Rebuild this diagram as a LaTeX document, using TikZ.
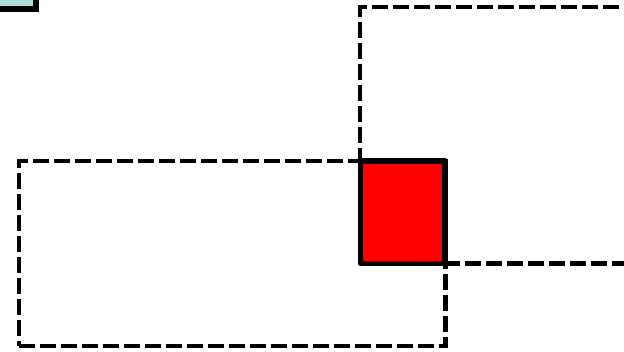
\documentclass[tikz,border=0pt]{standalone}
\begin{document}
\begin{tikzpicture}[x=1pt,y=-1pt,
  dashbox/.style={draw=black,line width=4.5pt,dash pattern=on 16pt off 5pt,rectangle,inner sep=0pt,outer sep=0pt,anchor=north west},
  redbox/.style={draw=black,fill=red,line width=5.5pt,line join=round,rectangle,inner sep=0pt,outer sep=0pt,anchor=north west},
  tealbox/.style={draw=black,line width=5.5pt,rectangle,inner sep=0pt,outer sep=0pt,anchor=south east}]
\useasboundingbox (0,0) rectangle (624,351);
\definecolor{tealfill}{RGB}{175,219,219}
\node[tealbox,fill=tealfill,minimum width=100pt,minimum height=60pt] (corner) at (36,9) {};
\node[dashbox,minimum width=400pt,minimum height=256.5pt] (upper) at (360,7) {};
\node[dashbox,minimum width=426.5pt,minimum height=185pt] (lower) at (19,161) {};
\node[redbox,minimum width=84.5pt,minimum height=102.5pt] (overlap) at (360.5,161) {};
\end{tikzpicture}
\end{document}
